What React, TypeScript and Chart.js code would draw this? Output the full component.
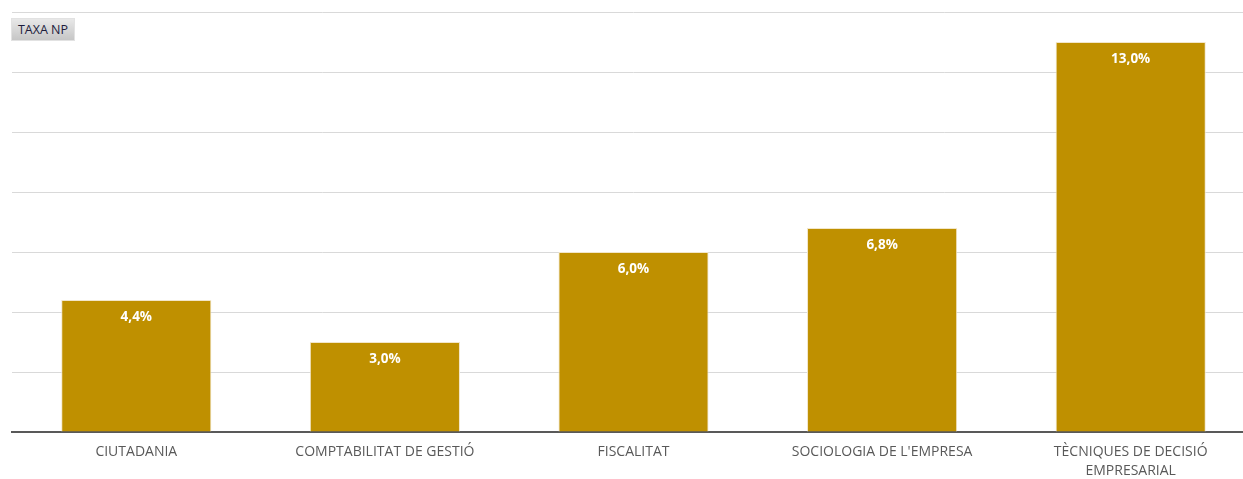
import React, { useEffect, useRef } from "react";
import { Chart, registerables } from "chart.js";

Chart.register(...registerables);

const categories: (string | string[])[] = [
  "CIUTADANIA",
  "COMPTABILITAT DE GESTIÓ",
  "FISCALITAT",
  "SOCIOLOGIA DE L'EMPRESA",
  ["TÈCNIQUES DE DECISIÓ", "EMPRESARIAL"],
];
const taxaNP: number[] = [4.4, 3.0, 6.0, 6.8, 13.0];
const valueLabels: string[] = ["4,4%", "3,0%", "6,0%", "6,8%", "13,0%"];
const seriesName = "TAXA NP";

const FONT = "'Open Sans', 'Liberation Sans', sans-serif";

const labelPlugin = {
  id: "valueLabels",
  afterDatasetsDraw(chart: any) {
    const ctx = chart.ctx;
    const meta = chart.getDatasetMeta(0);
    ctx.save();
    ctx.fillStyle = "#ffffff";
    ctx.font = `bold 13.5px ${FONT}`;
    ctx.textAlign = "center";
    ctx.textBaseline = "middle";
    meta.data.forEach((bar: any, i: number) => {
      ctx.fillText(valueLabels[i], bar.x, bar.y + 17);
    });
    ctx.restore();
  },
};

export default function App() {
  const ref = useRef<HTMLCanvasElement | null>(null);
  useEffect(() => {
    if (!ref.current) return;
    const chart = new Chart(ref.current, {
      type: "bar",
      data: {
        labels: categories,
        datasets: [
          {
            label: seriesName,
            data: taxaNP,
            backgroundColor: "#BF9000",
            borderColor: "#F2E6C9",
            borderWidth: 1,
            categoryPercentage: 1,
            barPercentage: 0.604,
          },
        ],
      },
      options: {
        animation: false,
        responsive: false,
        maintainAspectRatio: false,
        layout: { padding: { left: 12, right: 0, top: 12, bottom: 0 } },
        plugins: {
          legend: { display: false },
          tooltip: { enabled: false },
        },
        scales: {
          x: {
            grid: { display: false },
            border: { display: true, color: "#595959", width: 2 },
            ticks: {
              color: "#595959",
              font: { family: FONT, size: 14, lineHeight: 1.35 },
              padding: 3,
              maxRotation: 0,
              autoSkip: false,
            },
            afterFit: (scale: any) => {
              scale.height = 47;
            },
          },
          y: {
            min: 0,
            max: 14,
            ticks: { display: false, stepSize: 2 },
            grid: { color: "#D9D9D9", lineWidth: 1, drawTicks: false },
            border: { display: false },
            afterFit: (scale: any) => {
              scale.width = 0;
            },
          },
        },
      },
      plugins: [labelPlugin],
    });
    return () => chart.destroy();
  }, []);

  return (
    <div style={{ position: "absolute", left: 0, top: 0, width: 1243, height: 479, background: "#fff", overflow: "hidden" }}>
      <canvas ref={ref} width={1255} height={479} style={{ display: "block" }} />
      <div
        style={{
          position: "absolute",
          left: 11,
          top: 18,
          width: 64,
          height: 23,
          boxSizing: "border-box",
          border: "1px solid #e2e2e2",
          background: "linear-gradient(#e8e8e8, #c6c6c6)",
          fontFamily: FONT,
          fontSize: 12.5,
          color: "#1c1c3c",
          display: "flex",
          alignItems: "center",
          justifyContent: "center",
        }}
      >
        {seriesName}
      </div>
    </div>
  );
}
